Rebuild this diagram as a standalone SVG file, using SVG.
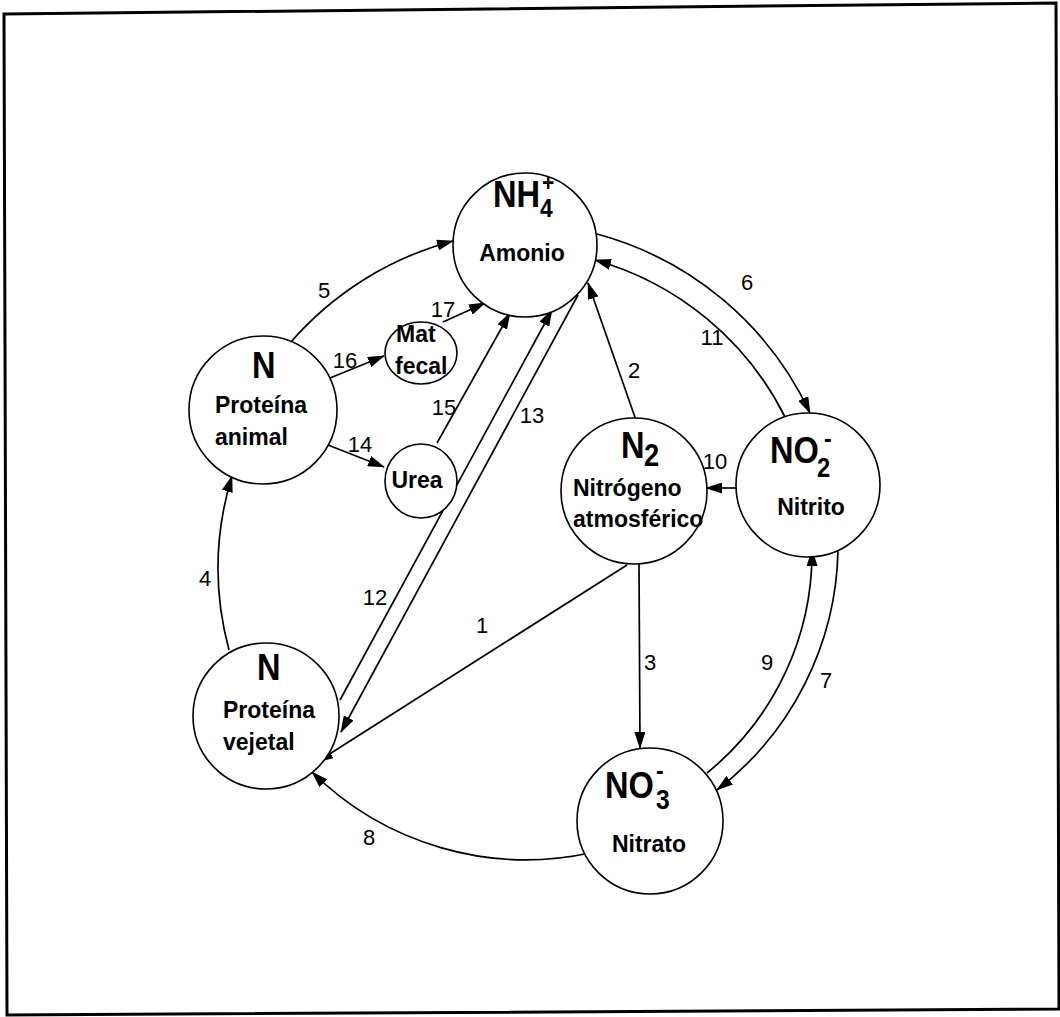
<svg xmlns="http://www.w3.org/2000/svg" width="1060" height="1017" viewBox="0 0 1060 1017">
<style>
.node{fill:#fff;stroke:#000;stroke-width:1.6}
.edge{fill:none;stroke:#000;stroke-width:1.7}
.lbl{font-family:"Liberation Sans",Arial,sans-serif;font-weight:bold;font-size:23px;fill:#000}
.big{font-family:"Liberation Sans",Arial,sans-serif;font-weight:bold;font-size:37px;fill:#000}
.num{font-family:"Liberation Sans",Arial,sans-serif;font-size:22px;fill:#000;text-anchor:middle}
</style>
<defs>
<marker id="ah" markerUnits="userSpaceOnUse" markerWidth="17" markerHeight="11" viewBox="0 0 17 11" refX="16" refY="5.5" orient="auto">
<path d="M0,0 L17,5.5 L0,11 z" fill="#000"/>
</marker>
</defs>
<rect width="1060" height="1017" fill="#fff"/>
<polygon points="4,14 1056,3 1059,1009 7,1015" fill="none" stroke="#000" stroke-width="3"/>

<g id="connectors">
<path id="e5" class="edge" d="M290,343 A325,325 0 0 1 453,241" marker-end="url(#ah)"/>
<path id="e6" class="edge" d="M597,234 A330,330 0 0 1 810,413" marker-end="url(#ah)"/>
<path id="e11" class="edge" d="M785,417 A305,305 0 0 0 595,260" marker-end="url(#ah)"/>
<path id="e7" class="edge" d="M838,550 A310,310 0 0 1 717,790" marker-end="url(#ah)"/>
<path id="e9" class="edge" d="M707,773 A284,284 0 0 0 812,550" marker-end="url(#ah)"/>
<path id="e8" class="edge" d="M590,853 A305,305 0 0 1 312,772" marker-end="url(#ah)"/>
<path id="e4" class="edge" d="M229,650 A315,315 0 0 1 232,476" marker-end="url(#ah)"/>
<path id="e16" class="edge" d="M330,378 L384,356" marker-end="url(#ah)"/>
<path id="e17" class="edge" d="M443,322 L485,303" marker-end="url(#ah)"/>
<path id="e14" class="edge" d="M328,445 L384,467" marker-end="url(#ah)"/>
<path id="e15" class="edge" d="M437,443 L510,313" marker-end="url(#ah)"/>
<path id="e2" class="edge" d="M637,423 L588,283" marker-end="url(#ah)"/>
<path id="e10" class="edge" d="M737,488 L706,488" marker-end="url(#ah)"/>
<path id="e1" class="edge" d="M627,565 L317,762" marker-end="url(#ah)"/>
<path id="e3" class="edge" d="M639,563 L640,748" marker-end="url(#ah)"/>
<path id="e12" class="edge" d="M340,700 L552,310" marker-end="url(#ah)"/>
<path id="e13" class="edge" d="M578,295 L341,732" marker-end="url(#ah)"/>
<text class="num" x="482" y="633">1</text>
<text class="num" x="634" y="378">2</text>
<text class="num" x="650" y="670">3</text>
<text class="num" x="205" y="586">4</text>
<text class="num" x="324" y="298">5</text>
<text class="num" x="747" y="290">6</text>
<text class="num" x="826" y="688">7</text>
<text class="num" x="369" y="845">8</text>
<text class="num" x="767" y="670">9</text>
<text class="num" x="715" y="469">10</text>
<text class="num" x="712" y="345">11</text>
<text class="num" x="375" y="605">12</text>
<text class="num" x="532" y="423">13</text>
<text class="num" x="360" y="452">14</text>
<text class="num" x="444" y="415">15</text>
<text class="num" x="345" y="368">16</text>
<text class="num" x="443" y="317">17</text>
</g>

<g id="amonio">
<circle class="node" cx="525" cy="245" r="72"/>
<text class="big" transform="scale(0.88,1)"><tspan x="560.2" y="207">NH</tspan><tspan x="613.6" y="217" font-size="26">4</tspan><tspan x="615.9" y="191" font-size="24">+</tspan></text>
<text class="lbl" x="522" y="261" text-anchor="middle">Amonio</text>
</g>

<g id="proteina-animal">
<circle class="node" cx="263" cy="410" r="74"/>
<text class="big" transform="scale(0.88,1)"><tspan x="286.4" y="378">N</tspan></text>
<text class="lbl" x="215" y="413">Proteína</text>
<text class="lbl" x="215" y="445">animal</text>
</g>

<g id="mat-fecal">
<ellipse class="node" cx="421" cy="353" rx="36" ry="31"/>
<text class="lbl" x="396" y="342">Mat</text>
<text class="lbl" x="395" y="374">fecal</text>
</g>

<g id="urea">
<ellipse class="node" cx="421" cy="481" rx="36" ry="37"/>
<text class="lbl" x="417" y="488" text-anchor="middle">Urea</text>
</g>

<g id="nitrogeno">
<circle class="node" cx="634" cy="491" r="73"/>
<text class="big" transform="scale(0.88,1)"><tspan x="705.7" y="458">N</tspan><tspan x="731.8" y="466" font-size="31">2</tspan></text>
<text class="lbl" x="573" y="496">Nitrógeno</text>
<text class="lbl" x="573" y="527">atmosférico</text>
</g>

<g id="nitrito">
<circle class="node" cx="808" cy="485" r="72"/>
<text class="big" transform="scale(0.88,1)"><tspan x="875" y="463">NO</tspan><tspan x="928.4" y="477" font-size="27">2</tspan><tspan x="936.4" y="447" font-size="26">-</tspan></text>
<text class="lbl" x="811" y="515" text-anchor="middle">Nitrito</text>
</g>

<g id="nitrato">
<circle class="node" cx="650" cy="821" r="73"/>
<text class="big" transform="scale(0.88,1)" font-size="38"><tspan x="687.5" y="798">NO</tspan><tspan x="745.5" y="809" font-size="28">3</tspan><tspan x="745.5" y="779" font-size="26">-</tspan></text>
<text class="lbl" x="649" y="852" text-anchor="middle">Nitrato</text>
</g>

<g id="proteina-vejetal">
<circle class="node" cx="266" cy="716" r="73"/>
<text class="big" transform="scale(0.88,1)"><tspan x="292" y="680">N</tspan></text>
<text class="lbl" x="223" y="718">Proteína</text>
<text class="lbl" x="223" y="750">vejetal</text>
</g>
</svg>
